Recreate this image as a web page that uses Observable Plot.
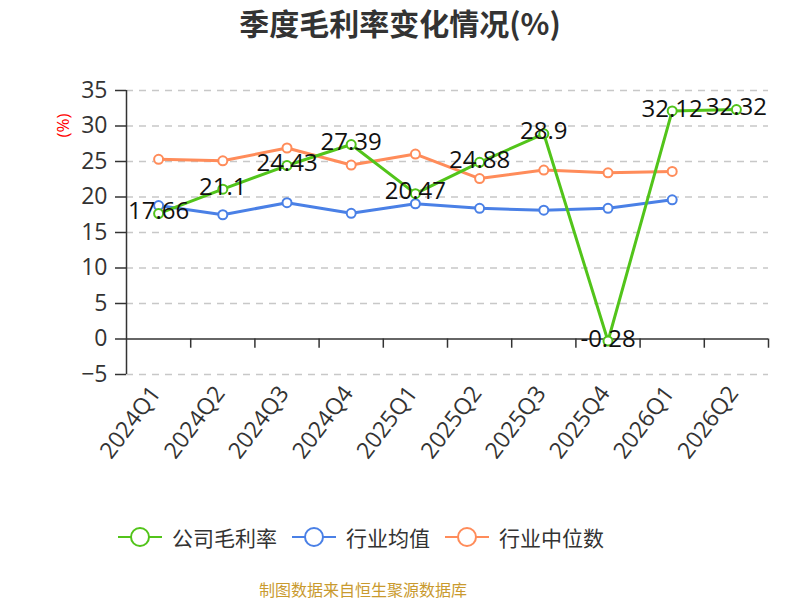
<!DOCTYPE html>
<html>
<head>
<meta charset="utf-8">
<script src="https://cdn.jsdelivr.net/npm/d3@7"></script>
<script src="https://cdn.jsdelivr.net/npm/@observablehq/plot@0.6"></script>
<style>
  html, body { margin: 0; padding: 0; background: #fff; }
  #wrap { position: relative; width: 800px; height: 600px; overflow: hidden; font-family: "Open Sans", "Noto Sans CJK SC", sans-serif; }
  #title { position: absolute; left: 0; top: 3px; width: 800px; text-align: center; font-size: 30px; font-weight: bold; color: #333; font-family: "Noto Sans CJK SC", sans-serif; line-height: 38px; }
  #chart { position: absolute; left: 0; top: 0; }
  #legend { position: absolute; top: 522px; left: 118px; height: 30px; display: flex; align-items: center; font-size: 21px; color: #333; font-family: "Noto Sans CJK SC", sans-serif; white-space: nowrap; }
  .item { display: flex; align-items: center; margin-right: 15px; }
  .item svg { margin-right: 10px; }
  #caption { position: absolute; top: 578px; left: 259px; white-space: nowrap; font-size: 16px; color: #c99a2e; font-family: "Noto Sans CJK SC", sans-serif; line-height: 22px; }
</style>
</head>
<body>
<div id="wrap">
  <div id="chart"></div>
  <div id="title">季度毛利率变化情况(%)</div>
  <div id="legend"></div>
  <div id="caption">制图数据来自恒生聚源数据库</div>
</div>
<script>
const quarters = ["2024Q1","2024Q2","2024Q3","2024Q4","2025Q1","2025Q2","2025Q3","2025Q4","2026Q1","2026Q2"];
const companyMargin = [17.66, 21.1, 24.43, 27.39, 20.47, 24.88, 28.9, -0.28, 32.12, 32.32];
const industryAvg = [18.8, 17.5, 19.2, 17.7, 19.05, 18.4, 18.15, 18.4, 19.6];
const industryMedian = [25.3, 25.1, 26.9, 24.5, 26.05, 22.6, 23.8, 23.4, 23.6];
const yTicks = [-5, 0, 5, 10, 15, 20, 25, 30, 35];
const seriesNames = ["公司毛利率", "行业均值", "行业中位数"];
const colors = ["#52c41a", "#4a80e6", "#ff8c5a"];

const rows = (vals) => vals.map((v, i) => ({x: i + 0.5, v, q: quarters[i]}));
const comp = rows(companyMargin);
const avg = rows(industryAvg);
const med = rows(industryMedian);

const font = '"Open Sans", "Noto Sans CJK SC", sans-serif';

const plot = Plot.plot({
  width: 800,
  height: 500,
  marginTop: 90,
  marginBottom: 126,
  marginLeft: 126,
  marginRight: 32,
  style: {fontFamily: font, background: "transparent", overflow: "visible"},
  x: {type: "linear", domain: [0, quarters.length], axis: null},
  y: {domain: [-5, 35], axis: null},
  marks: [
    Plot.ruleY(yTicks.filter(t => t !== 0), {stroke: "#c8c8c8", strokeWidth: 1.5, strokeDasharray: "7,6"}),
    Plot.axisY({ticks: yTicks, label: null, tickSize: 11, tickPadding: 8, fontSize: 23, color: "#333", strokeWidth: 1.5}),
    Plot.ruleX([0], {stroke: "#333", strokeWidth: 1.5}),
    Plot.ruleY([0], {stroke: "#333", strokeWidth: 1.5}),
    Plot.ruleX(d3.range(1, quarters.length + 1), {y1: 0, y2: -1.3, stroke: "#333", strokeWidth: 1.5}),
    Plot.text(quarters, {x: (d, i) => i + 0.5, frameAnchor: "bottom", text: d => d, rotate: -53, textAnchor: "end", dx: 3, dy: 19, fontSize: 23, fill: "#333"}),
    Plot.text(["(%)"], {frameAnchor: "top-left", textAnchor: "middle", lineAnchor: "middle", dx: -63, dy: 35, rotate: -90, fill: "#ff0000", fontSize: 17}),
    Plot.line(med, {x: "x", y: "v", stroke: colors[2], strokeWidth: 3}),
    Plot.line(avg, {x: "x", y: "v", stroke: colors[1], strokeWidth: 3}),
    Plot.line(comp, {x: "x", y: "v", stroke: colors[0], strokeWidth: 3}),
    Plot.dot(med, {x: "x", y: "v", r: 4.5, fill: "white", stroke: colors[2], strokeWidth: 2}),
    Plot.dot(avg, {x: "x", y: "v", r: 4.5, fill: "white", stroke: colors[1], strokeWidth: 2}),
    Plot.dot(comp, {x: "x", y: "v", r: 4.5, fill: "white", stroke: colors[0], strokeWidth: 2}),
    Plot.text(comp, {x: "x", y: "v", text: d => String(d.v), dy: -2, fontSize: 24, fill: "#111"})
  ]
});
document.getElementById("chart").appendChild(plot);

const legend = document.getElementById("legend");
seriesNames.forEach((name, i) => {
  const item = document.createElement("div");
  item.className = "item";
  item.innerHTML = `<svg width="44" height="24" viewBox="0 0 44 24"><line x1="0" y1="12" x2="44" y2="12" stroke="${colors[i]}" stroke-width="2"/><circle cx="22" cy="12" r="9" fill="white" stroke="${colors[i]}" stroke-width="2"/></svg><span>${name}</span>`;
  legend.appendChild(item);
});
</script>
</body>
</html>
